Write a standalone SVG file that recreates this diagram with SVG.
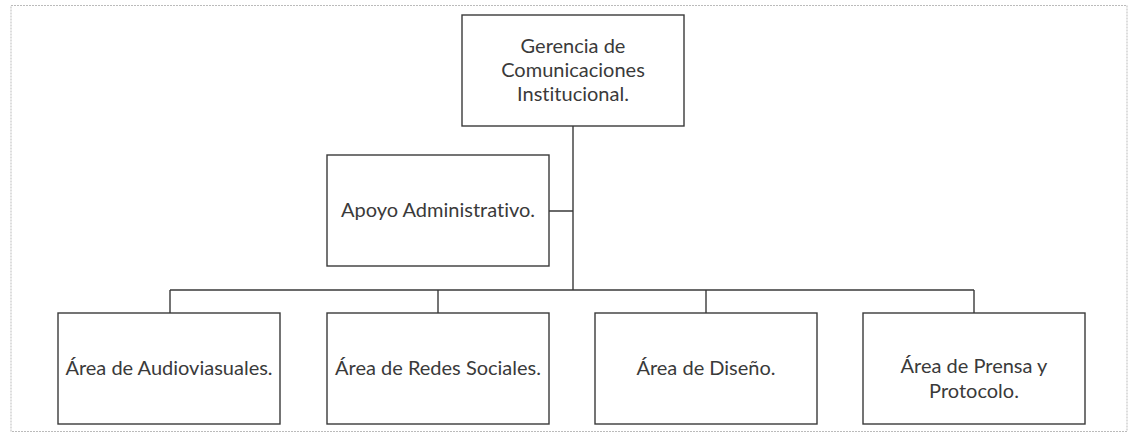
<svg xmlns="http://www.w3.org/2000/svg" width="1130" height="434" viewBox="0 0 1130 434">
<style>
.box{fill:#fff;stroke:#3a3a3a;stroke-width:1.4}
.ln{fill:none;stroke:#3a3a3a;stroke-width:1.4}
.t{font-family:Lato,"Open Sans",sans-serif;font-size:20px;fill:#3a3a3a;text-anchor:middle;font-variant-ligatures:none}
</style>
<rect x="0" y="0" width="1130" height="434" fill="#fff"/>
<rect x="11" y="5.5" width="1116" height="426" fill="none" stroke="#bbb" stroke-width="1" stroke-dasharray="2 1"/>
<g id="connectors">
<path class="ln" d="M573 126V290M549 211H573M170 290H974M170 290V313M438 290V313M706 290V313M974 290V313"/>
</g>
<g id="gerencia">
<rect class="box" x="462" y="15" width="222" height="111"/>
<text class="t" x="573" y="53">Gerencia de</text>
<text class="t" x="573" y="77">Comunicaciones</text>
<text class="t" x="573" y="101">Institucional.</text>
</g>
<g id="apoyo">
<rect class="box" x="327" y="155" width="222" height="111"/>
<text class="t" x="438" y="217">Apoyo Administrativo.</text>
</g>
<g id="audiovisuales">
<rect class="box" x="58" y="313" width="222" height="111"/>
<text class="t" x="169" y="375">Área de Audioviasuales.</text>
</g>
<g id="redes">
<rect class="box" x="327" y="313" width="222" height="111"/>
<text class="t" x="438" y="375">Área de Redes Sociales.</text>
</g>
<g id="diseno">
<rect class="box" x="595" y="313" width="222" height="111"/>
<text class="t" x="706" y="375">Área de Diseño.</text>
</g>
<g id="prensa">
<rect class="box" x="863" y="313" width="222" height="111"/>
<text class="t" x="974" y="373">Área de Prensa y</text>
<text class="t" x="974" y="398">Protocolo.</text>
</g>
</svg>
